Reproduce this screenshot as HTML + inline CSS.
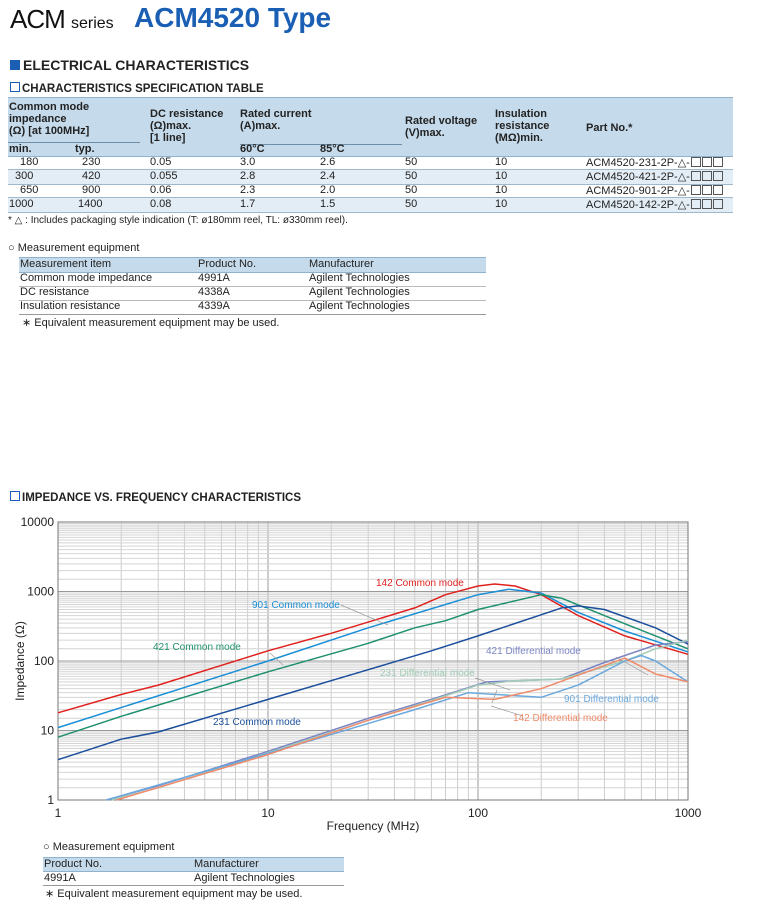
<!DOCTYPE html>
<html><head><meta charset="utf-8">
<style>
body{margin:0;width:775px;height:908px;background:#fff;font-family:"Liberation Sans",sans-serif;color:#222;position:relative;overflow:hidden}
.a{position:absolute;white-space:nowrap}
.s{font-size:11px}
.b{font-weight:bold}
.box{display:inline-block;width:8px;height:8px;border:1px solid #1a5fb4;margin-right:2px;vertical-align:0}
.sq{display:inline-block;width:8px;height:8px;border:1px solid #555;vertical-align:-1px;margin-left:1px}
</style></head><body>
<div class="a" style="left:10px;top:4px;font-size:26px;color:#111;letter-spacing:-1px">ACM <span style="font-size:16px;letter-spacing:0">series</span></div>
<div class="a b" style="left:134px;top:2px;font-size:28px;color:#1a5fb4">ACM4520 Type</div>
<div class="a b" style="left:10px;top:57px;font-size:14px"><span style="display:inline-block;width:10px;height:10px;background:#1a5fb4;margin-right:3px"></span>ELECTRICAL CHARACTERISTICS</div>
<div class="a b" style="left:10px;top:82px;font-size:11.5px"><span class="box"></span>CHARACTERISTICS SPECIFICATION TABLE</div>

<div>
<div class="a" style="left:8px;top:97px;width:725px;height:58px;background:#c5dbec;border-top:1px solid #8fb2cf;border-bottom:1px solid #8fb2cf"></div>
<div class="a" style="left:8px;top:169px;width:725px;height:14px;background:#e3edf6;border-top:1px solid #9fb8cc;border-bottom:1px solid #9fb8cc"></div>
<div class="a" style="left:8px;top:197px;width:725px;height:14px;background:#e3edf6;border-top:1px solid #9fb8cc;border-bottom:1px solid #9fb8cc"></div>
<div class="a" style="left:8px;top:142px;width:132px;height:1px;background:#6f8ea8"></div>
<div class="a" style="left:240px;top:144px;width:162px;height:1px;background:#6f8ea8"></div>
<div class="a s b" style="left:9px;top:101px;line-height:12px">Common mode<br>impedance<br>(Ω) [at 100MHz]</div>
<div class="a s b" style="left:9px;top:143px">min.</div><div class="a s b" style="left:75px;top:143px">typ.</div>
<div class="a s b" style="left:150px;top:108px;line-height:12px">DC resistance<br>(Ω)max.<br>[1 line]</div>
<div class="a s b" style="left:240px;top:108px;line-height:12px">Rated current<br>(A)max.</div>
<div class="a s b" style="left:240px;top:143px">60°C</div><div class="a s b" style="left:320px;top:143px">85°C</div>
<div class="a s b" style="left:405px;top:115px;line-height:12px">Rated voltage<br>(V)max.</div>
<div class="a s b" style="left:495px;top:108px;line-height:12px">Insulation<br>resistance<br>(MΩ)min.</div>
<div class="a s b" style="left:586px;top:122px">Part No.*</div>
<div class="a s" style="left:20px;top:156px">180</div><div class="a s" style="left:82px;top:156px">230</div><div class="a s" style="left:150px;top:156px">0.05</div><div class="a s" style="left:240px;top:156px">3.0</div><div class="a s" style="left:320px;top:156px">2.6</div><div class="a s" style="left:405px;top:156px">50</div><div class="a s" style="left:495px;top:156px">10</div><div class="a s" style="left:586px;top:156px">ACM4520-231-2P-△-<span class="sq"></span><span class="sq"></span><span class="sq"></span></div>
<div class="a s" style="left:15px;top:170px">300</div><div class="a s" style="left:82px;top:170px">420</div><div class="a s" style="left:150px;top:170px">0.055</div><div class="a s" style="left:240px;top:170px">2.8</div><div class="a s" style="left:320px;top:170px">2.4</div><div class="a s" style="left:405px;top:170px">50</div><div class="a s" style="left:495px;top:170px">10</div><div class="a s" style="left:586px;top:170px">ACM4520-421-2P-△-<span class="sq"></span><span class="sq"></span><span class="sq"></span></div>
<div class="a s" style="left:20px;top:184px">650</div><div class="a s" style="left:82px;top:184px">900</div><div class="a s" style="left:150px;top:184px">0.06</div><div class="a s" style="left:240px;top:184px">2.3</div><div class="a s" style="left:320px;top:184px">2.0</div><div class="a s" style="left:405px;top:184px">50</div><div class="a s" style="left:495px;top:184px">10</div><div class="a s" style="left:586px;top:184px">ACM4520-901-2P-△-<span class="sq"></span><span class="sq"></span><span class="sq"></span></div>
<div class="a s" style="left:9px;top:198px">1000</div><div class="a s" style="left:78px;top:198px">1400</div><div class="a s" style="left:150px;top:198px">0.08</div><div class="a s" style="left:240px;top:198px">1.7</div><div class="a s" style="left:320px;top:198px">1.5</div><div class="a s" style="left:405px;top:198px">50</div><div class="a s" style="left:495px;top:198px">10</div><div class="a s" style="left:586px;top:198px">ACM4520-142-2P-△-<span class="sq"></span><span class="sq"></span><span class="sq"></span></div>
</div>
<div class="a" style="left:8px;top:215px;font-size:10px">* △ : Includes packaging style indication (T: ø180mm reel, TL: ø330mm reel).</div>

<div class="a s" style="left:8px;top:242px">○ Measurement equipment</div>
<div>
<div class="a" style="left:19px;top:257px;width:467px;height:14px;background:#c5dbec;border-top:1px solid #8fb2cf;border-bottom:1px solid #8fb2cf"></div>
<div class="a" style="left:19px;top:286px;width:467px;height:1px;background:#bbb"></div>
<div class="a" style="left:19px;top:300px;width:467px;height:1px;background:#bbb"></div>
<div class="a" style="left:19px;top:314px;width:467px;height:1px;background:#999"></div>
<div class="a s" style="left:20px;top:258px">Measurement item</div><div class="a s" style="left:198px;top:258px">Product No.</div><div class="a s" style="left:309px;top:258px">Manufacturer</div>
<div class="a s" style="left:20px;top:272px">Common mode impedance</div><div class="a s" style="left:198px;top:272px">4991A</div><div class="a s" style="left:309px;top:272px">Agilent Technologies</div>
<div class="a s" style="left:20px;top:286px">DC resistance</div><div class="a s" style="left:198px;top:286px">4338A</div><div class="a s" style="left:309px;top:286px">Agilent Technologies</div>
<div class="a s" style="left:20px;top:300px">Insulation resistance</div><div class="a s" style="left:198px;top:300px">4339A</div><div class="a s" style="left:309px;top:300px">Agilent Technologies</div>
</div>
<div class="a s" style="left:22px;top:316px">∗ Equivalent measurement equipment may be used.</div>

<div class="a b" style="left:10px;top:491px;font-size:11.5px"><span class="box"></span>IMPEDANCE VS. FREQUENCY CHARACTERISTICS</div>

<svg class="a" style="left:0;top:0" width="775" height="908" id="chart"></svg>

<div class="a s" style="left:43px;top:841px">○ Measurement equipment</div>
<div>
<div class="a" style="left:43px;top:857px;width:301px;height:13px;background:#c5dbec;border-top:1px solid #8fb2cf;border-bottom:1px solid #8fb2cf"></div>
<div class="a" style="left:43px;top:885px;width:301px;height:1px;background:#999"></div>
<div class="a s" style="left:44px;top:858px">Product No.</div><div class="a s" style="left:194px;top:858px">Manufacturer</div>
<div class="a s" style="left:44px;top:872px">4991A</div><div class="a s" style="left:194px;top:872px">Agilent Technologies</div>
</div>
<div class="a s" style="left:45px;top:887px">∗ Equivalent measurement equipment may be used.</div>

<script>
const seriesNames = ["142 Common mode","901 Common mode","421 Common mode","231 Common mode","421 Differential mode","231 Differential mode","901 Differential mode","142 Differential mode"];
const seriesColors = ["#e0221f","#1a8fd6","#1f9170","#1b4f9c","#7b85c4","#a3cdb8","#6aa8dd","#f08a6a"];
const freq142CM = [1,2,3,10,20,50,70,100,120,150,200,300,500,1000];
const z142CM = [18,33,45,140,250,580,900,1200,1280,1200,900,450,230,125];
const freq901CM = [1,10,30,100,140,200,300,500,1000];
const z901CM = [11,100,300,900,1080,950,500,270,135];
const freq421CM = [1,2,10,30,50,70,100,200,250,400,1000];
const z421CM = [8,16,70,180,300,380,550,900,800,450,150];
const freq231CM = [1,2,3,10,30,60,100,250,300,400,700,1000];
const z231CM = [3.8,7.5,9.5,28,75,140,230,580,620,550,300,175];
const freq421DM = [1.7,3,10,30,60,110,250,400,700,1000];
const z421DM = [1,1.6,5,15,28,50,55,95,170,190];
const freq231DM = [1.8,3,10,30,60,100,150,250,500,700,1000];
const z231DM = [1,1.5,4.8,14,27,45,52,55,100,150,200];
const freq901DM = [1.7,10,50,90,200,300,500,600,700,1000];
const z901DM = [1,4.7,20,35,30,45,100,120,100,50];
const freq142DM = [1.9,10,30,70,120,200,500,700,1000];
const z142DM = [1,4.5,14,30,28,40,110,65,50];
const seriesFreq = [freq142CM,freq901CM,freq421CM,freq231CM,freq421DM,freq231DM,freq901DM,freq142DM];
const seriesZ = [z142CM,z901CM,z421CM,z231CM,z421DM,z231DM,z901DM,z142DM];
const xTicks = [1,10,100,1000];
const xTickLabels = ["1","10","100","1000"];
const yTicks = [1,10,100,1000,10000];
const yTickLabels = ["1","10","100","1000","10000"];

const L=58,R=688,T=522,B=800;
const X=f=>L+(Math.log10(f)-0)/3*(R-L);
const Y=z=>B-(Math.log10(z))/4*(B-T);
const svg=document.getElementById('chart');
const NS='http://www.w3.org/2000/svg';
function mk(tag,attrs){const e=document.createElementNS(NS,tag);for(const k in attrs)e.setAttribute(k,attrs[k]);svg.appendChild(e);return e;}
svg.appendChild(document.createElementNS(NS,'g'));
// grid
for(let d=0;d<3;d++)for(let m=1;m<10;m++){const f=Math.pow(10,d)*m;const l=mk('line',{x1:X(f),x2:X(f),y1:T,y2:B,stroke:m==1?'#999':'#ccc','stroke-width':1});

}
for(let d=0;d<4;d++)for(let m=1;m<10;m+=0.5){const z=Math.pow(10,d)*m;const l=mk('line',{x1:L,x2:R,y1:Y(z),y2:Y(z),stroke:m==1?'#999':'#d4d4d4','stroke-width':1});

}
const fr=mk('rect',{x:L,y:T,width:R-L,height:B-T,fill:'none',stroke:'#777','stroke-width':1});


xTicks.forEach((t,i)=>{const e=mk('text',{x:X(t),y:B+17,'text-anchor':'middle','font-size':12,fill:'#222'});e.textContent=xTickLabels[i];

});
yTicks.forEach((t,i)=>{const e=mk('text',{x:L-4,y:Y(t)+4,'text-anchor':'end','font-size':12,fill:'#222'});e.textContent=yTickLabels[i];

});
const xt=mk('text',{x:(L+R)/2,y:B+30,'text-anchor':'middle','font-size':12,fill:'#222'});xt.textContent='Frequency (MHz)';


const yt=mk('text',{x:0,y:0,'text-anchor':'middle','font-size':12,fill:'#222',transform:`translate(24,${(T+B)/2}) rotate(-90)`});yt.textContent='Impedance (Ω)';


seriesFreq.forEach((fs,i)=>{const pts=fs.map((f,j)=>X(f).toFixed(1)+','+Y(seriesZ[i][j]).toFixed(1)).join(' ');
const p=mk('polyline',{points:pts,fill:'none',stroke:seriesColors[i],'stroke-width':1.5,'stroke-linejoin':'round'});

});
const labels=[[376,586,0],[252,608,1],[153,650,2],[213,725,3],[486,654,4],[380,676,5],[564,702,6],[513,721,7]];
const leaders=[[341,605,388,625],[270,653,283,665],[475,678,510,690],[616,657,648,675],[491,706,523,716],[492,703,497,690]];
leaders.forEach(a=>{const l=mk('line',{x1:a[0],y1:a[1],x2:a[2],y2:a[3],stroke:'#999','stroke-width':0.7});

});
labels.forEach(a=>{const e=mk('text',{x:a[0],y:a[1],'font-size':10,fill:seriesColors[a[2]]});e.textContent=seriesNames[a[2]];

});
</script>
</body></html>
